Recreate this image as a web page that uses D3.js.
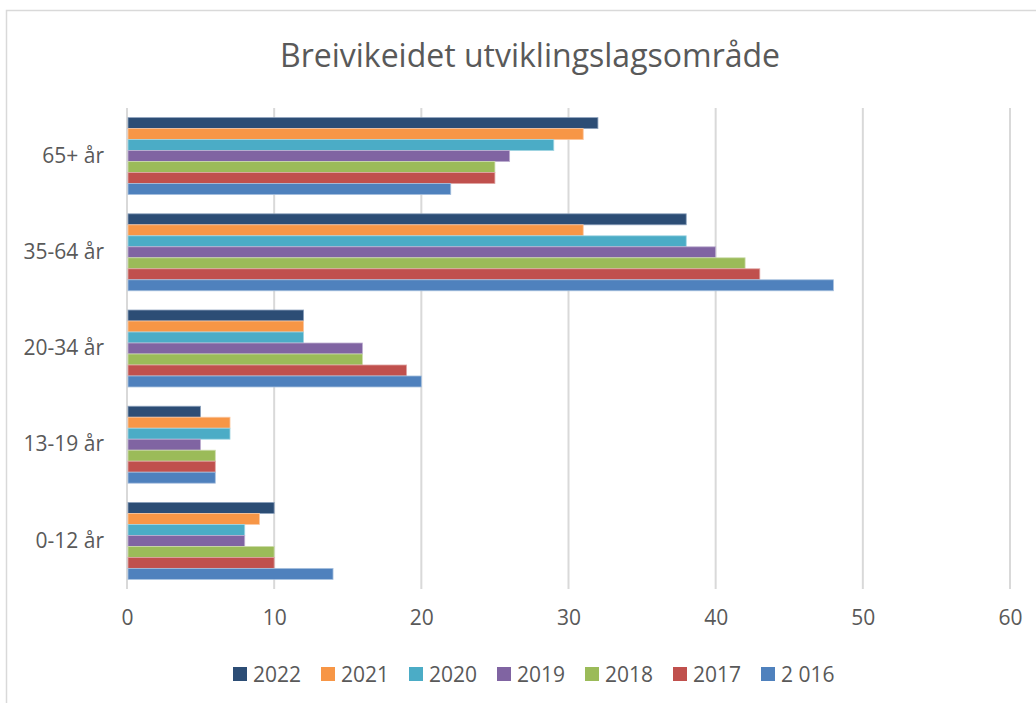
<!DOCTYPE html>
<html lang="no">
<head>
<meta charset="UTF-8" />
<title>Breivikeidet utviklingslagsområde</title>
<script src="https://d3js.org/d3.v7.min.js"></script>
<style>
  body { margin: 0; background: #fff; }
  text { font-family: "Open Sans", "Liberation Sans", sans-serif; fill: #595959; }
</style>
</head>
<body>
<div id="chart"></div>
<script>
// data, categories listed bottom to top like the picture
const categories = ["0-12 år", "13-19 år", "20-34 år", "35-64 år", "65+ år"]
const seriesNames = ["2022", "2021", "2020", "2019", "2018", "2017", "2 016"]
const v2022 = [10, 5, 12, 38, 32]
const v2021 = [9, 7, 12, 31, 31]
const v2020 = [8, 7, 12, 38, 29]
const v2019 = [8, 5, 16, 40, 26]
const v2018 = [10, 6, 16, 42, 25]
const v2017 = [10, 6, 19, 43, 25]
const v2016 = [14, 6, 20, 48, 22]
const xTicks = [0, 10, 20, 30, 40, 50, 60]

const values = [v2022, v2021, v2020, v2019, v2018, v2017, v2016]
const colors = ["#2C4D75", "#F79646", "#4BACC6", "#8064A2", "#9BBB59", "#C0504D", "#4F81BD"]
const strokes = ["#8da2bd", "#fbc7a0", "#a3d6e3", "#bfb0d1", "#cddcac", "#e0a7a6", "#a7c0de"]

const width = 1036, height = 703
const margin = { top: 108, right: 26, bottom: 114, left: 127 }

const svg = d3.select("#chart").append("svg")
    .attr("width", width)
    .attr("height", height)

// outer chart border
svg.append("rect")
    .attr("x", 6.5).attr("y", 10.5)
    .attr("width", width + 10).attr("height", height + 10)
    .attr("fill", "none").attr("stroke", "#d9d9d9").attr("stroke-width", 1.5)

svg.append("text")
    .attr("x", 530).attr("y", 67)
    .attr("text-anchor", "middle")
    .attr("font-size", 32)
    .text("Breivikeidet utviklingslagsområde")

const x = d3.scaleLinear()
    .domain([0, 60])
    .range([margin.left, width - margin.right])

const y = d3.scaleBand()
    .domain(categories.slice().reverse())
    .range([margin.top, height - margin.bottom])
    .paddingInner(0.2)
    .paddingOuter(0.1)

const ySub = d3.scaleBand()
    .domain(seriesNames)
    .range([0, y.bandwidth()])

// gridlines
svg.append("g")
    .selectAll("line")
    .data(xTicks)
    .join("line")
    .attr("x1", d => x(d)).attr("x2", d => x(d))
    .attr("y1", margin.top).attr("y2", height - margin.bottom)
    .attr("stroke", "#d9d9d9").attr("stroke-width", 2)

// bars
const groups = svg.append("g")
    .selectAll("g")
    .data(seriesNames)
    .join("g")
    .attr("fill", (d, i) => colors[i])
    .attr("stroke", (d, i) => strokes[i])
    .attr("stroke-width", 0.8)

groups.selectAll("rect")
    .data((s, i) => categories.map((c, j) => ({ cat: c, s: s, v: values[i][j] })))
    .join("rect")
    .attr("x", x(0) + 1)
    .attr("y", d => y(d.cat) + ySub(d.s))
    .attr("width", d => x(d.v) - x(0) - 1)
    .attr("height", ySub.bandwidth())

// x axis labels
const xAxis = g => g
    .attr("transform", `translate(0,${height - margin.bottom + 21})`)
    .call(d3.axisBottom(x).tickValues(xTicks).tickSize(0).tickPadding(0))
    .call(g => g.select(".domain").remove())
    .call(g => g.selectAll("text").attr("font-size", 21).attr("fill", "#595959").attr("font-family", null))

svg.append("g").call(xAxis)

// category labels
const yAxis = g => g
    .attr("transform", `translate(${margin.left - 23},0)`)
    .call(d3.axisLeft(y).tickSize(0).tickPadding(0))
    .call(g => g.select(".domain").remove())
    .call(g => g.selectAll("text").attr("font-size", 21).attr("fill", "#595959").attr("font-family", null))

svg.append("g").call(yAxis)

// legend
const legend = svg.append("g")
    .selectAll("g")
    .data(seriesNames)
    .join("g")
    .attr("transform", (d, i) => `translate(${233 + i * 88},674)`)

legend.append("rect")
    .attr("x", 0).attr("y", -7)
    .attr("width", 14).attr("height", 14)
    .attr("fill", (d, i) => colors[i])

legend.append("text")
    .attr("x", 20).attr("y", 7.5)
    .attr("font-size", 21)
    .text(d => d)
</script>
</body>
</html>
